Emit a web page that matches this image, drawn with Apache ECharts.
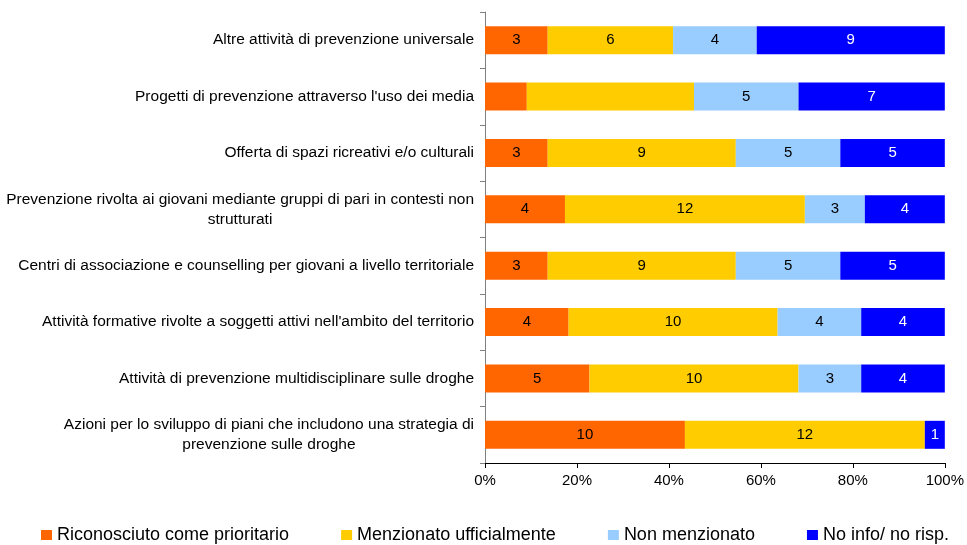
<!DOCTYPE html>
<html>
<head>
<meta charset="utf-8">
<script src="https://cdn.jsdelivr.net/npm/echarts@6/dist/echarts.min.js"></script>
<style>
  html, body { margin: 0; padding: 0; background: #fff; }
  #chart { width: 967px; height: 545px; }
</style>
</head>
<body>
<div id="chart"></div>
<script>
// categories, top to bottom
var categories = [
  "Altre attività di prevenzione universale",
  "Progetti di prevenzione attraverso l'uso dei media",
  "Offerta di spazi ricreativi e/o culturali",
  "Prevenzione rivolta ai giovani mediante gruppi di pari in contesti non\nstrutturati",
  "Centri di associazione e counselling per giovani a livello territoriale",
  "Attività formative rivolte a soggetti attivi nell'ambito del territorio",
  "Attività di prevenzione multidisciplinare sulle droghe",
  "Azioni per lo sviluppo di piani che includono una strategia di\nprevenzione sulle droghe"
];

var seriesNames = ["Riconosciuto come prioritario", "Menzionato ufficialmente", "Non menzionato", "No info/ no risp."];

var prioritario = [3, 2, 3, 4, 3, 4, 5, 10];
var menzionato = [6, 8, 9, 12, 9, 10, 10, 12];
var nonMenzionato = [4, 5, 5, 3, 5, 4, 3, 0];
var noInfo = [9, 7, 5, 4, 5, 4, 4, 1];

// labels missing in the original: [series, category]
var hiddenLabels = [[0, 1], [1, 1]];

var xTicks = [0, 20, 40, 60, 80, 100];

var colors = ["#FF6600", "#FFCC00", "#99CCFF", "#0000FF"];
var counts = [prioritario, menzionato, nonMenzionato, noInfo];

var totals = categories.map(function (c, i) {
  return counts.reduce(function (s, arr) { return s + arr[i]; }, 0);
});

var series = counts.map(function (arr, si) {
  return {
    name: seriesNames[si],
    type: "bar",
    stack: "tot",
    barWidth: 28,
    itemStyle: { color: colors[si] },
    label: {
      show: true,
      position: "inside",
      color: si === 3 ? "#fff" : "#000",
      fontSize: 15,
      formatter: function (p) { return counts[si][p.dataIndex] ? String(counts[si][p.dataIndex]) : ""; }
    },
    data: arr.map(function (v, ci) {
      var item = { value: v / totals[ci] * 100 };
      hiddenLabels.forEach(function (h) {
        if (h[0] === si && h[1] === ci) item.label = { show: false };
      });
      return item;
    })
  };
});

var chart = echarts.init(document.getElementById("chart"));
chart.setOption({
  animation: false,
  textStyle: { fontFamily: "Liberation Sans, Arial, sans-serif" },
  grid: { left: 485, right: 19, top: 12, bottom: 82 },
  legend: {
    top: 521,
    left: 36,
    itemWidth: 11,
    itemHeight: 10,
    itemGap: 52,
    icon: "rect",
    textStyle: { fontSize: 18, color: "#000" },
    data: seriesNames
  },
  xAxis: {
    type: "value",
    min: xTicks[0],
    max: xTicks[xTicks.length - 1],
    interval: 20,
    splitLine: { show: false },
    axisLine: { show: true, lineStyle: { color: "#000" } },
    axisTick: { show: true, length: 5, lineStyle: { color: "#000" } },
    axisLabel: { formatter: "{value}%", fontSize: 15, color: "#000", margin: 10 }
  },
  yAxis: {
    type: "category",
    inverse: true,
    data: categories,
    axisLine: { show: true, lineStyle: { color: "#808080" } },
    axisTick: { show: true, length: 5, lineStyle: { color: "#808080" } },
    axisLabel: {
      color: "#000",
      fontSize: 15.5,
      margin: 11,
      lineHeight: 20,
      align: "right",
      formatter: function (v) {
        return v.split("\n").map(function (l) { return "{c|" + l + "}"; }).join("\n");
      },
      rich: { c: { align: "center", fontSize: 15.5, lineHeight: 20, color: "#000" } }
    }
  },
  series: series
});
</script>
</body>
</html>
